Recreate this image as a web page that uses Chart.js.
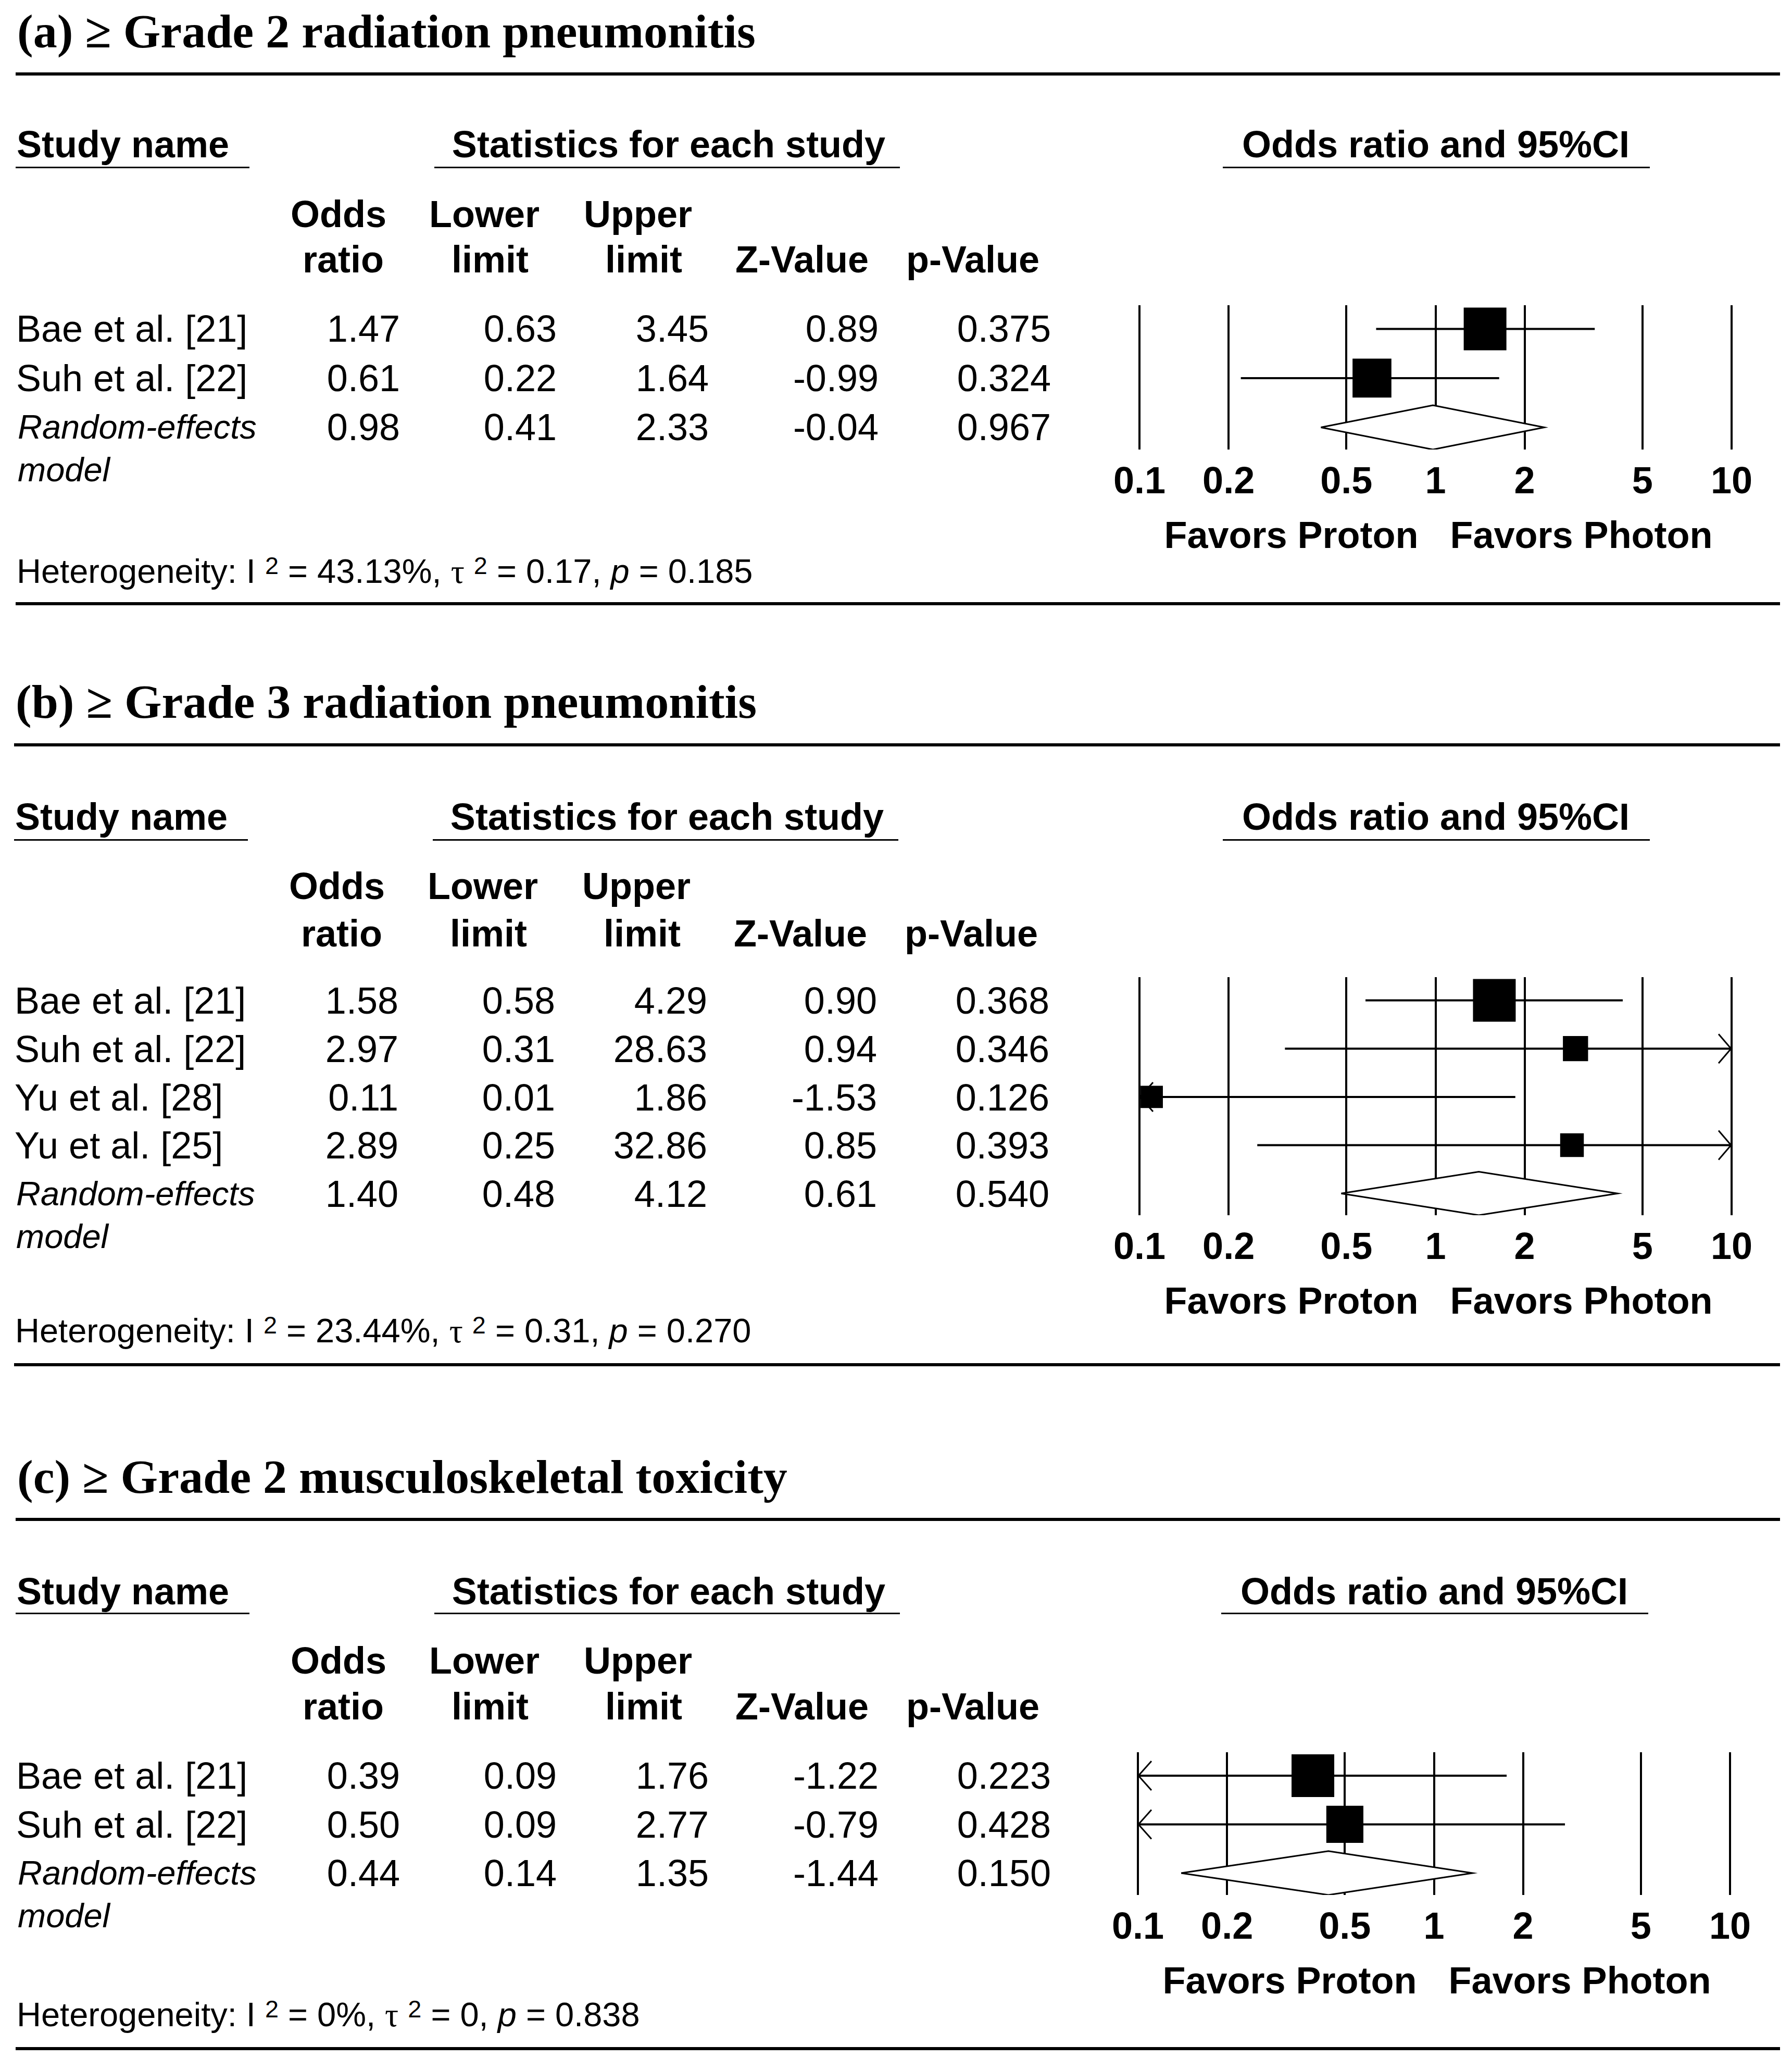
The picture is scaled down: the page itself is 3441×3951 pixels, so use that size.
<!DOCTYPE html>
<html>
<head>
<meta charset="utf-8">
<script src="https://cdn.jsdelivr.net/npm/chart.js@4.4.0/dist/chart.umd.min.js"></script>
<style>
  html, body { margin: 0; padding: 0; background: #fff; overflow: hidden; }
  #page { position: relative; width: 3441px; height: 3951px; background: #fff; overflow: hidden;
          font-family: Arial, "Liberation Sans", sans-serif; color: #000; }
  .t { position: absolute; line-height: 0; white-space: nowrap; }
  .rule { position: absolute; background: #000; }
  canvas { position: absolute; }
  .sup { position: relative; top: -0.36em; font-size: 0.72em; }
</style>
</head>
<body>
<div id="page"></div>
<script>
// ---- data ----
const tickValues = [0.1, 0.2, 0.5, 1, 2, 5, 10];

const titleA = '(a) \u2265 Grade 2 radiation pneumonitis';
const namesA = ['Bae et al. [21]', 'Suh et al. [22]', 'Random-effects model'];
const oddsA = [1.47, 0.61, 0.98];
const lowerA = [0.63, 0.22, 0.41];
const upperA = [3.45, 1.64, 2.33];
const zA = [0.89, -0.99, -0.04];
const pA = [0.375, 0.324, 0.967];
const hetA = [43.13, 0.17, 0.185]; // I2 (%), tau2, p

const titleB = '(b) \u2265 Grade 3 radiation pneumonitis';
const namesB = ['Bae et al. [21]', 'Suh et al. [22]', 'Yu et al. [28]', 'Yu et al. [25]', 'Random-effects model'];
const oddsB = [1.58, 2.97, 0.11, 2.89, 1.40];
const lowerB = [0.58, 0.31, 0.01, 0.25, 0.48];
const upperB = [4.29, 28.63, 1.86, 32.86, 4.12];
const zB = [0.90, 0.94, -1.53, 0.85, 0.61];
const pB = [0.368, 0.346, 0.126, 0.393, 0.540];
const hetB = [23.44, 0.31, 0.270];

const titleC = '(c) \u2265 Grade 2 musculoskeletal toxicity';
const namesC = ['Bae et al. [21]', 'Suh et al. [22]', 'Random-effects model'];
const oddsC = [0.39, 0.50, 0.44];
const lowerC = [0.09, 0.09, 0.14];
const upperC = [1.76, 2.77, 1.35];
const zC = [-1.22, -0.79, -1.44];
const pC = [0.223, 0.428, 0.150];
const hetC = [0, 0, 0.838];

const panels = [
  { title: titleA, names: namesA, odds: oddsA, lower: lowerA, upper: upperA, z: zA, p: pA, het: hetA },
  { title: titleB, names: namesB, odds: oddsB, lower: lowerB, upper: upperB, z: zB, p: pB, het: hetB },
  { title: titleC, names: namesC, odds: oddsC, lower: lowerC, upper: upperC, z: zC, p: pC, het: hetC }
];

// ---- layout (page pixels) ----
const layouts = [
  { title: 60, ruleTop: 142, head: 277, headLine: 321, hdr1: 411, hdr2: 498, row0: 631, step: 94.5, het: 1097, ruleBot: 1159, dx: 0, cdx: 0 },
  { title: 1347, ruleTop: 1430, head: 1568, headLine: 1612, hdr1: 1701, hdr2: 1792, row0: 1921, step: 92.75, het: 2555, ruleBot: 2620, dx: -3, cdx: 0 },
  { title: 2835, ruleTop: 2917, head: 3055, headLine: 3097, hdr1: 3188, hdr2: 3276, row0: 3409, step: 93.5, het: 3868, ruleBot: 3933, dx: 0, cdx: -3 }
];
const colRight = [768, 1069, 1361, 1687, 2018];
const hdrTop = [['Odds', 650], ['Lower', 930], ['Upper', 1225]];
const hdrBottom = [['ratio', 659], ['limit', 941], ['limit', 1236], ['Z-Value', 1540], ['p-Value', 1868]];
const BIG_SQUARE = 82;

const page = document.getElementById('page');

function txt(s, x, y, o = {}) {
  const d = document.createElement('div');
  d.className = 't';
  if (o.html) d.innerHTML = s; else d.textContent = s;
  d.style.left = x + 'px';
  d.style.top = y + 'px';
  d.style.fontSize = (o.size || 72) + 'px';
  if (o.bold) d.style.fontWeight = 'bold';
  if (o.italic) d.style.fontStyle = 'italic';
  if (o.serif) d.style.fontFamily = '"Liberation Serif", "Times New Roman", serif';
  if (o.align === 'right') d.style.transform = 'translateX(-100%)';
  if (o.align === 'center') d.style.transform = 'translateX(-50%)';
  page.appendChild(d);
  return d;
}

function bar(x1, x2, y, h) {
  const d = document.createElement('div');
  d.className = 'rule';
  d.style.left = x1 + 'px';
  d.style.width = (x2 - x1) + 'px';
  d.style.top = (y - h / 2) + 'px';
  d.style.height = h + 'px';
  page.appendChild(d);
}

// arrows for intervals running past the axis ends
const arrowPlugin = {
  id: 'ciArrows',
  afterDatasetsDraw(chart, args, opts) {
    const { ctx, scales: { x, y } } = chart;
    const xMin = x.min, xMax = x.max;
    ctx.save();
    ctx.strokeStyle = '#000';
    ctx.lineWidth = 3;
    opts.lower.forEach((lo, i) => {
      if (i >= opts.lower.length - 1) return;
      const py = y.getPixelForValue(i);
      if (lo < xMin) {
        const px = x.getPixelForValue(xMin);
        ctx.beginPath();
        ctx.moveTo(px + 26, py - 28); ctx.lineTo(px + 1, py); ctx.lineTo(px + 26, py + 28);
        ctx.stroke();
      }
      if (opts.upper[i] > xMax) {
        const px = x.getPixelForValue(xMax);
        ctx.beginPath();
        ctx.moveTo(px - 25, py - 28); ctx.lineTo(px - 1, py); ctx.lineTo(px - 25, py + 28);
        ctx.stroke();
      }
    });
    ctx.restore();
  }
};

function forest(P, L) {
  const k = P.names.length - 1; // index of pooled row
  const xMin = tickValues[0], xMax = tickValues[tickValues.length - 1];
  const clampX = v => Math.min(Math.max(v, xMin), xMax);

  // square size from random-effects weight
  const tau2 = P.het[1];
  const w = [];
  for (let i = 0; i < k; i++) {
    const se = (Math.log(P.upper[i]) - Math.log(P.lower[i])) / (2 * 1.959964);
    w.push(1 / (se * se + tau2));
  }
  const wMax = Math.max(...w);
  const radii = w.map(v => BIG_SQUARE * Math.sqrt(v / wMax) / Math.SQRT2);

  const padL = 138, padR = 75, padT = 10, axisH = 200;
  const H = Math.round(L.step * (k + 0.93));
  const cv = document.createElement('canvas');
  cv.width = 1350;
  cv.height = padT + H + axisH;
  const left = 2050 + L.cdx;
  const top = Math.round(L.row0 - 0.48 * L.step - padT);
  cv.style.left = left + 'px';
  cv.style.top = top + 'px';
  page.appendChild(cv);

  const datasets = [];
  datasets.push({
    data: P.odds.slice(0, k).map((v, i) => ({ x: v, y: i })),
    pointStyle: 'rect', pointRadius: radii, backgroundColor: '#000', borderWidth: 0,
    showLine: false, clip: false, order: 0
  });
  for (let i = 0; i < k; i++) {
    datasets.push({
      data: [{ x: clampX(P.lower[i]), y: i }, { x: clampX(P.upper[i]), y: i }],
      showLine: true, borderColor: '#000', borderWidth: 4, pointRadius: 0, order: 1
    });
  }
  datasets.push({
    data: [
      { x: P.lower[k], y: k }, { x: P.odds[k], y: k - 0.45 },
      { x: P.upper[k], y: k }, { x: P.odds[k], y: k + 0.45 }, { x: P.lower[k], y: k }
    ],
    showLine: true, fill: 'shape', backgroundColor: '#fff', borderColor: '#000', borderWidth: 3,
    borderJoinStyle: 'miter', pointRadius: 0, tension: 0, order: 2
  });

  const chart = new Chart(cv.getContext('2d'), {
    type: 'scatter',
    data: { datasets },
    options: {
      responsive: false, animation: false, devicePixelRatio: 1, events: [],
      layout: { autoPadding: false, padding: { left: padL, right: padR, top: padT, bottom: 0 } },
      plugins: { legend: { display: false }, tooltip: { enabled: false },
                 ciArrows: { lower: P.lower, upper: P.upper } },
      scales: {
        x: {
          type: 'logarithmic', min: xMin, max: xMax, position: 'bottom',
          afterBuildTicks: s => { s.ticks = tickValues.map(v => ({ value: v })); },
          afterFit: s => { s.height = axisH; },
          grid: { color: '#000', lineWidth: 4, drawTicks: false },
          border: { display: false },
          ticks: { color: '#000', font: { family: 'Arial, "Liberation Sans", sans-serif', size: 72, weight: 'bold' },
                   padding: 21, maxRotation: 0, autoSkip: false, callback: v => String(v) }
        },
        y: { type: 'linear', reverse: true, min: -0.48, max: k + 0.45, display: false }
      }
    },
    plugins: [arrowPlugin]
  });

  // direction labels around OR = 1
  const one = left + chart.scales.x.getPixelForValue(1);
  const yFav = top + chart.chartArea.bottom + 164;
  txt('Favors Proton', one - 33, yFav, { bold: true, align: 'right' });
  txt('Favors Photon', one + 28, yFav, { bold: true });
}

panels.forEach((P, idx) => {
  const L = layouts[idx];
  const dx = L.dx;
  const k = P.names.length - 1;

  txt(P.title, 33 + dx, L.title, { serif: true, bold: true, size: 92 });
  bar(30 + dx, 3418, L.ruleTop, 6);

  txt('Study name', 32 + dx, L.head, { bold: true });
  bar(30 + dx, 479 + dx, L.headLine, 3);
  txt('Statistics for each study', 1284 + dx, L.head, { bold: true, align: 'center' });
  bar(834 + dx, 1728 + dx, L.headLine, 3);
  txt('Odds ratio and 95%CI', 2757 + L.cdx, L.head, { bold: true, align: 'center' });
  bar(2348 + L.cdx, 3168 + L.cdx, L.headLine, 3);

  hdrTop.forEach(([s, x]) => txt(s, x + dx, L.hdr1, { bold: true, align: 'center' }));
  hdrBottom.forEach(([s, x]) => txt(s, x + dx, L.hdr2, { bold: true, align: 'center' }));

  P.names.forEach((name, i) => {
    const y = L.row0 + i * L.step;
    if (i === k) {
      const parts = name.split(' ');
      txt(parts[0], 34 + dx, y, { italic: true, size: 65 });
      txt(parts[1], 34 + dx, y + 82, { italic: true, size: 65 });
    } else {
      txt(name, 31 + dx, y);
    }
    const vals = [P.odds[i].toFixed(2), P.lower[i].toFixed(2), P.upper[i].toFixed(2),
                  P.z[i].toFixed(2), P.p[i].toFixed(3)];
    vals.forEach((v, j) => txt(v, colRight[j] + dx, y, { align: 'right' }));
  });

  const het = 'Heterogeneity: I <span class="sup">2</span> = ' + P.het[0] + '%, ' +
    '<span style="font-family:\'Liberation Serif\',serif">\u03c4</span> <span class="sup">2</span> = ' +
    P.het[1] + ', <i>p</i> = ' + P.het[2].toFixed(3);
  txt(het, 32 + dx, L.het, { size: 65, html: true });
  bar(30 + dx, 3418, L.ruleBot, 6);

  forest(P, L);
});
</script>
</body>
</html>
